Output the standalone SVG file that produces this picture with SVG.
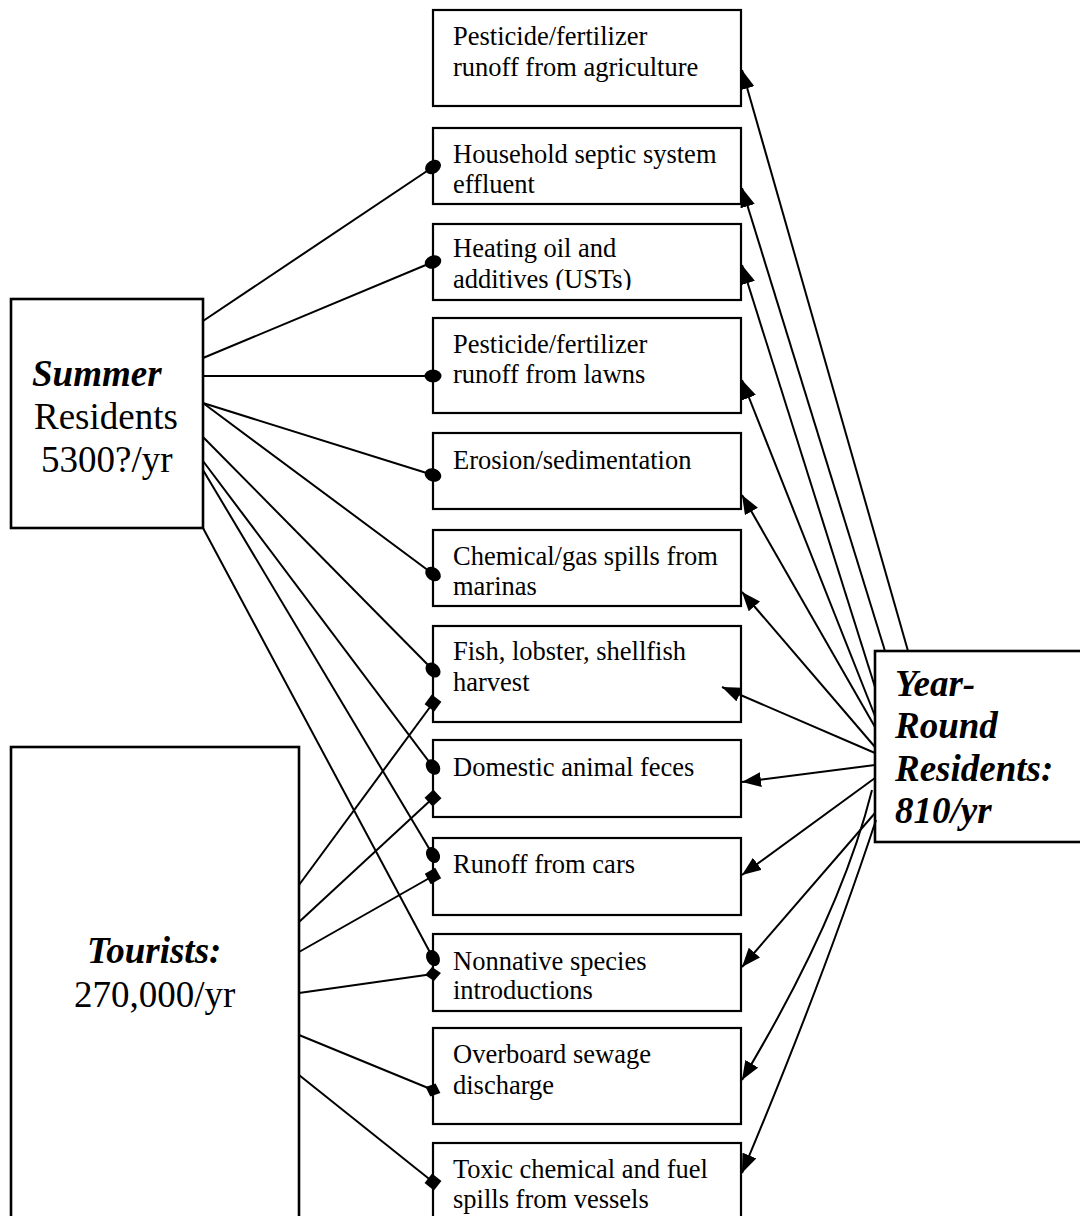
<svg xmlns="http://www.w3.org/2000/svg" width="1080" height="1216" viewBox="0 0 1080 1216">
<style>
.box{fill:#fff;stroke:#000;stroke-width:2.2}
.big{fill:#fff;stroke:#000;stroke-width:2.6}
.t{font-family:"Liberation Serif","Times New Roman",serif;font-size:26.5px;fill:#000}
.b{font-family:"Liberation Serif","Times New Roman",serif;font-size:37px;fill:#000}
.bi{font-weight:bold;font-style:italic}
.c{fill:none;stroke:#000;stroke-width:2}
.dot{marker-end:url(#dot)}
.sq{marker-end:url(#sq)}
.dia{marker-end:url(#dia)}
.arr{marker-end:url(#arr)}
</style>
<defs>
<marker id="arr" markerUnits="userSpaceOnUse" markerWidth="20" markerHeight="15" refX="19" refY="7.5" orient="auto" viewBox="0 0 20 15"><path d="M0,0 L19,7.5 L0,15 z" fill="#000"/></marker>
<marker id="dot" markerUnits="userSpaceOnUse" markerWidth="20" markerHeight="16" refX="10" refY="8" orient="auto" viewBox="0 0 20 16"><ellipse cx="10" cy="8" rx="8.5" ry="6.5" fill="#000"/></marker>
<marker id="sq" markerUnits="userSpaceOnUse" markerWidth="14" markerHeight="14" refX="7" refY="7" orient="auto" viewBox="0 0 14 14"><rect x="1" y="1" width="12" height="12" fill="#000"/></marker>
<marker id="dia" markerUnits="userSpaceOnUse" markerWidth="18" markerHeight="16" refX="9" refY="8" orient="auto" viewBox="0 0 18 16"><path d="M1,8 L9,1 L17,8 L9,15 z" fill="#000"/></marker>
<clipPath id="clip3"><rect x="433" y="224" width="308" height="66"/></clipPath>
</defs>

<g id="summer">
<rect class="big" x="11" y="299" width="192" height="229"/>
<text class="b bi" x="32" y="386">Summer</text>
<text class="b" x="34" y="429">Residents</text>
<text class="b" x="41" y="472">5300?/yr</text>
</g>

<g id="tourists">
<rect class="big" x="11" y="747" width="288" height="520"/>
<text class="b bi" x="87" y="963">Tourists:</text>
<text class="b" x="74" y="1007">270,000/yr</text>
</g>

<g id="yearround">
<rect class="big" x="875" y="651" width="220" height="191"/>
<text class="b bi" x="895" y="696">Year-</text>
<text class="b bi" x="895" y="738">Round</text>
<text class="b bi" x="895" y="781">Residents:</text>
<text class="b bi" x="895" y="823">810/yr</text>
</g>

<g id="n1"><rect class="box" x="433" y="10" width="308" height="96"/>
<text class="t" x="453" y="45">Pesticide/fertilizer</text><text class="t" x="453" y="76">runoff from agriculture</text></g>
<g id="n2"><rect class="box" x="433" y="128" width="308" height="76"/>
<text class="t" x="453" y="163">Household septic system</text><text class="t" x="453" y="193">effluent</text></g>
<g id="n3"><rect class="box" x="433" y="224" width="308" height="76"/>
<g clip-path="url(#clip3)"><text class="t" x="453" y="257">Heating oil and</text><text class="t" x="453" y="288">additives (USTs)</text></g></g>
<g id="n4"><rect class="box" x="433" y="318" width="308" height="95"/>
<text class="t" x="453" y="353">Pesticide/fertilizer</text><text class="t" x="453" y="383">runoff from lawns</text></g>
<g id="n5"><rect class="box" x="433" y="433" width="308" height="76"/>
<text class="t" x="453" y="469">Erosion/sedimentation</text></g>
<g id="n6"><rect class="box" x="433" y="530" width="308" height="76"/>
<text class="t" x="453" y="565">Chemical/gas spills from</text><text class="t" x="453" y="595">marinas</text></g>
<g id="n7"><rect class="box" x="433" y="626" width="308" height="96"/>
<text class="t" x="453" y="660">Fish, lobster, shellfish</text><text class="t" x="453" y="691">harvest</text></g>
<g id="n8"><rect class="box" x="433" y="740" width="308" height="77"/>
<text class="t" x="453" y="776">Domestic animal feces</text></g>
<g id="n9"><rect class="box" x="433" y="838" width="308" height="77"/>
<text class="t" x="453" y="873">Runoff from cars</text></g>
<g id="n10"><rect class="box" x="433" y="934" width="308" height="77"/>
<text class="t" x="453" y="970">Nonnative species</text><text class="t" x="453" y="999">introductions</text></g>
<g id="n11"><rect class="box" x="433" y="1028" width="308" height="96"/>
<text class="t" x="453" y="1063">Overboard sewage</text><text class="t" x="453" y="1094">discharge</text></g>
<g id="n12"><rect class="box" x="433" y="1143" width="308" height="100"/>
<text class="t" x="453" y="1178">Toxic chemical and fuel</text><text class="t" x="453" y="1208">spills from vessels</text></g>

<g id="connectors">
<path class="c dot" d="M203,321 L433,167"/>
<path class="c dot" d="M203,358 L433,262"/>
<path class="c dot" d="M203,376 L433,376"/>
<path class="c dot" d="M203,403 L433,475"/>
<path class="c dot" d="M203,403 L433,574"/>
<path class="c dot" d="M203,437 L433,670"/>
<path class="c dot" d="M203,461 L433,767"/>
<path class="c dot" d="M203,470 L433,855"/>
<path class="c dot" d="M203,528 L433,958"/>

<path class="c sq" d="M299,885 L433,703"/>
<path class="c sq" d="M299,922 L433,798"/>
<path class="c sq" d="M299,952 L433,876"/>
<path class="c dia" d="M299,993 L433,974"/>
<path class="c dia" d="M299,1035 L433,1090"/>
<path class="c sq" d="M299,1075 L433,1182"/>

<path class="c arr" d="M908,651 L742,70"/>
<path class="c arr" d="M885,651 L742,188"/>
<path class="c arr" d="M875,687 L742,265"/>
<path class="c arr" d="M875,716 L742,380"/>
<path class="c arr" d="M875,727 L742,495"/>
<path class="c arr" d="M875,747 L742,592"/>
<path class="c arr" d="M875,753 L722,687"/>
<path class="c arr" d="M875,765 L742,782"/>
<path class="c arr" d="M875,778 L742,875"/>
<path class="c arr" d="M875,813 L742,967"/>
<path class="c arr" d="M872,790 Q840.5,916 742,1080"/>
<path class="c arr" d="M876,820 Q823.5,979 742,1173"/>
</g>
</svg>
